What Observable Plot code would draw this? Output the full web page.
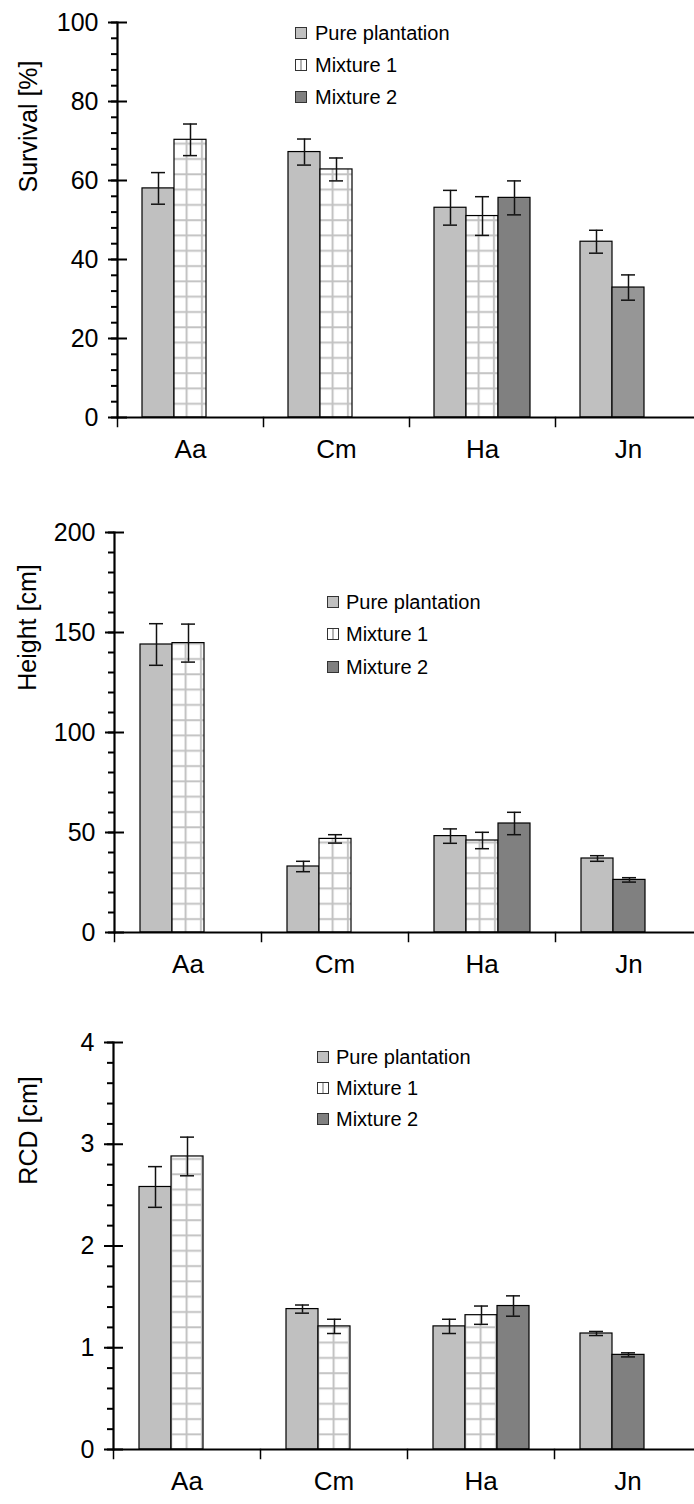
<!DOCTYPE html>
<html><head><meta charset="utf-8">
<script src="https://cdn.jsdelivr.net/npm/d3@7"></script>
<script src="https://cdn.jsdelivr.net/npm/@observablehq/plot@0.6"></script>
<style>
html,body{margin:0;padding:0;background:#fff;overflow:hidden;}
body{width:694px;height:1504px;font-family:"Liberation Sans",Arial,sans-serif;}
.panel{position:relative;width:694px;overflow:hidden;}
.legend{position:absolute;top:0;font-size:20px;color:#000;}
.legend .row{position:absolute;left:0;white-space:nowrap;display:flex;align-items:center;height:24px;}
.sw{width:10px;height:10px;border:1px solid #333;margin-right:8px;flex:none;}
</style></head><body>
<svg width="0" height="0" style="position:absolute">
  <defs>
    <pattern id="grid" patternUnits="userSpaceOnUse" width="15.3" height="15.3">
      <rect width="15.3" height="15.3" fill="#fff"/>
      <path d="M2 0V15.3M0 6H15.3" stroke="#c2c2c2" stroke-width="2"/>
    </pattern>
  </defs>
</svg>
<div id="p1" class="panel" style="height:500px"></div>
<div id="p2" class="panel" style="height:500px"></div>
<div id="p3" class="panel" style="height:504px"></div>
<script>
const categories = ["Aa", "Cm", "Ha", "Jn"];
const seriesNames = ["Pure plantation", "Mixture 1", "Mixture 2"];

// Survival [%]
const survivalPure = [58.0, 67.2, 53.1, 44.5];
const survivalPureErr = [4.0, 3.3, 4.4, 2.9];
const survivalMix1 = [70.3, 62.8, 51.0, null];
const survivalMix1Err = [4.0, 2.9, 4.9, null];
const survivalMix2 = [null, null, 55.6, 32.9];
const survivalMix2Err = [null, null, 4.3, 3.2];

// Height [cm]
const heightPure = [144.0, 33.0, 48.2, 37.0];
const heightPureErr = [10.4, 2.6, 3.6, 1.4];
const heightMix1 = [144.7, 46.8, 46.0, null];
const heightMix1Err = [9.5, 2.1, 4.1, null];
const heightMix2 = [null, null, 54.5, 26.3];
const heightMix2Err = [null, null, 5.6, 1.1];

// RCD [cm]
const rcdPure = [2.58, 1.38, 1.21, 1.14];
const rcdPureErr = [0.20, 0.04, 0.07, 0.02];
const rcdMix1 = [2.88, 1.21, 1.32, null];
const rcdMix1Err = [0.19, 0.07, 0.09, null];
const rcdMix2 = [null, null, 1.41, 0.93];
const rcdMix2Err = [null, null, 0.10, 0.02];

const survivalTicks = [0, 20, 40, 60, 80, 100];
const heightTicks = [0, 50, 100, 150, 200];
const rcdTicks = [0, 1, 2, 3, 4];

const FONT = '"Liberation Sans", Arial, sans-serif';

function buildRows(means, errs) {
  const rows = [];
  categories.forEach((cat, i) => {
    let slot = 0;
    means.forEach((m, k) => {
      if (m[i] == null) return;
      rows.push({cat, slot: slot++, series: seriesNames[k], value: m[i], err: errs[k][i]});
    });
  });
  return rows;
}

function makePanel(id, cfg) {
  const rows = buildRows(cfg.means, cfg.errs);
  const innerH = cfg.height - cfg.mt - cfg.mb;
  const mix2Fill = cfg.mix2Fill || (() => "#808080");
  const svg = Plot.plot({
    width: 702, height: cfg.height,
    marginLeft: cfg.ml, marginRight: 0, marginTop: cfg.mt, marginBottom: cfg.mb,
    style: {fontFamily: FONT, background: "transparent", overflow: "visible"},
    fx: {domain: categories, padding: 0, axis: null},
    x: {type: "band", domain: [0, 1, 2], paddingInner: 0, paddingOuter: 0.75, axis: null},
    y: {domain: cfg.domain},
    marks: [
      Plot.barY(rows.filter(d => d.series === seriesNames[0]), {fx: "cat", x: "slot", y: "value", fill: "#c0c0c0", stroke: "#000", strokeWidth: 1.2}),
      Plot.barY(rows.filter(d => d.series === seriesNames[1]), {fx: "cat", x: "slot", y: "value", fill: "url(#grid)", stroke: "#000", strokeWidth: 1.2}),
      ...rows.filter(d => d.series === seriesNames[2]).map(d =>
        Plot.barY([d], {fx: "cat", x: "slot", y: "value", fill: mix2Fill(d), stroke: "#000", strokeWidth: 1.2})),
      Plot.ruleX(rows, {fx: "cat", x: "slot", y1: d => d.value - d.err, y2: d => d.value + d.err, stroke: "#111", strokeWidth: 1.5}),
      Plot.tickY(rows, {fx: "cat", x: "slot", y: d => d.value + d.err, stroke: "#111", strokeWidth: 1.5, insetLeft: 9, insetRight: 9}),
      Plot.tickY(rows, {fx: "cat", x: "slot", y: d => d.value - d.err, stroke: "#111", strokeWidth: 1.5, insetLeft: 9, insetRight: 9}),
      Plot.ruleY([0], {stroke: "#000", strokeWidth: 2}),
      Plot.frame({anchor: "left", insetTop: innerH, insetBottom: -9, stroke: "#000", strokeWidth: 1.5}),
      Plot.frame({anchor: "left", facetAnchor: "left", stroke: "#000", strokeWidth: 2.2}),
      Plot.axisY({anchor: "left", ticks: cfg.minor, tickSize: 6, strokeWidth: 2, text: null, label: null}),
      Plot.axisY({anchor: "left", ticks: cfg.major, tickSize: -10, strokeWidth: 2, text: null, label: null}),
      Plot.axisY({anchor: "left", ticks: cfg.major, tickSize: 9, tickPadding: 10, strokeWidth: 2, fontSize: 25, label: null, tickFormat: d => String(d), fill: "#000"}),
      Plot.text([cfg.title], {frameAnchor: "top-left", rotate: -90, textAnchor: "middle", dx: cfg.tdx, dy: cfg.tdy, fontSize: 25, fill: "#000", facetAnchor: "left"}),
      Plot.text(categories, {fx: d => d, text: d => d, frameAnchor: "bottom", dy: 40, fontSize: 26, fill: "#000"})
    ]
  });
  svg.style.maxWidth = "none";
  const el = document.getElementById(id);
  el.appendChild(svg);

  const leg = document.createElement("div");
  leg.className = "legend";
  leg.style.left = cfg.legX + "px";
  const swatches = [
    "background:#c0c0c0",
    "background:linear-gradient(to right,#fff 0,#fff 4px,#b4b4b4 4px,#b4b4b4 6px,#fff 6px)",
    "background:#808080"
  ];
  seriesNames.forEach((name, k) => {
    const r = document.createElement("div");
    r.className = "row";
    r.style.top = (cfg.legY[k] - 12) + "px";
    r.innerHTML = `<span class="sw" style="${swatches[k]};margin-right:${cfg.legGap}px"></span><span>${name}</span>`;
    leg.appendChild(r);
  });
  el.appendChild(leg);
}

makePanel("p1", {
  height: 500, mt: 22, mb: 83, ml: 116, domain: [0, 100],
  means: [survivalPure, survivalMix1, survivalMix2],
  errs: [survivalPureErr, survivalMix1Err, survivalMix2Err],
  major: survivalTicks, minor: d3.range(0, 101, 4),
  title: "Survival [%]", tdx: -98, tdy: 104,
  mix2Fill: d => d.cat === "Jn" ? "#969696" : "#808080",
  legX: 295, legY: [33, 65, 97], legGap: 8
});
makePanel("p2", {
  height: 500, mt: 32, mb: 68, ml: 114, domain: [0, 200],
  means: [heightPure, heightMix1, heightMix2],
  errs: [heightPureErr, heightMix1Err, heightMix2Err],
  major: heightTicks, minor: d3.range(0, 201, 10),
  title: "Height [cm]", tdx: -96, tdy: 95,
  legX: 327, legY: [102, 134, 167], legGap: 7
});
makePanel("p3", {
  height: 504, mt: 42, mb: 55, ml: 112, domain: [0, 4],
  means: [rcdPure, rcdMix1, rcdMix2],
  errs: [rcdPureErr, rcdMix1Err, rcdMix2Err],
  major: rcdTicks, minor: d3.range(0, 21).map(i => i / 5),
  title: "RCD [cm]", tdx: -94, tdy: 88,
  legX: 317, legY: [57, 88, 119], legGap: 7
});
</script>
</body></html>
